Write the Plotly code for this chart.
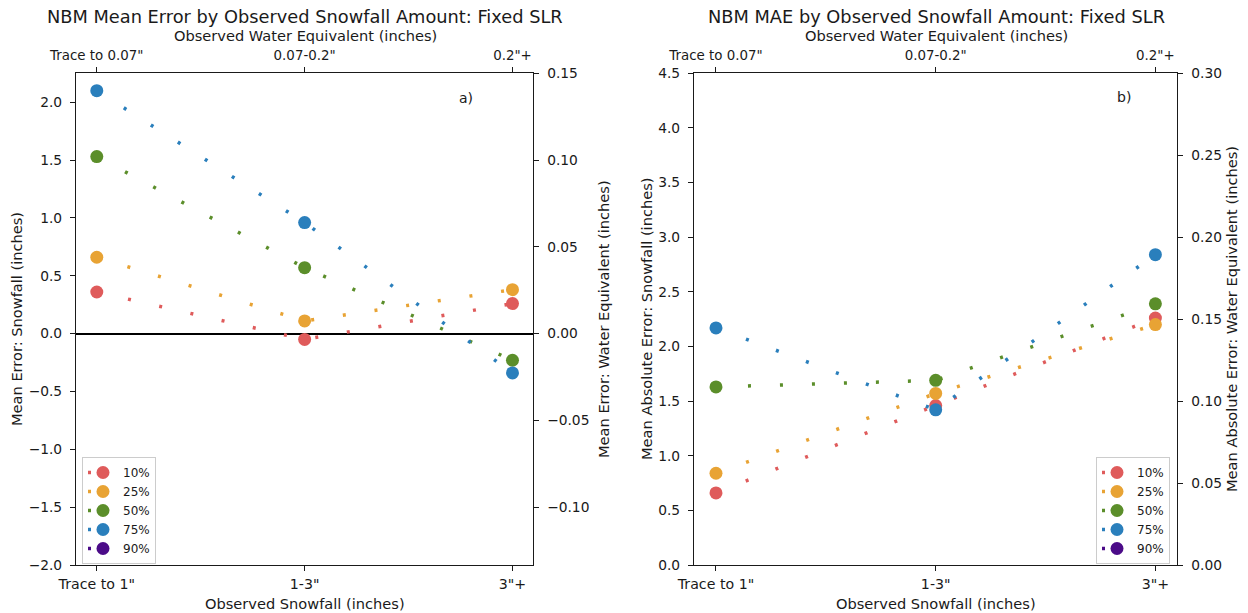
import plotly.graph_objects as go

# Category positions and tick labels
categories = [0, 1, 2]
snow_labels = ['Trace to 1"', '1-3"', '3"+']
swe_labels = ['Trace to 0.07"', '0.07-0.2"', '0.2"+']

# Percentile series names and colours
percentiles = ["10%", "25%", "50%", "75%", "90%"]
colors = ["#df5b5b", "#e8a334", "#5b8e2a", "#2a7fbc", "#4b0b88"]

# Mean error (snowfall, inches) by observed snowfall bin
me_p10 = [0.36, -0.05, 0.26]
me_p25 = [0.66, 0.11, 0.38]
me_p50 = [1.53, 0.57, -0.23]
me_p75 = [2.10, 0.96, -0.34]
me_p90 = [None, None, None]

# Mean absolute error (snowfall, inches) by observed snowfall bin
mae_p10 = [0.66, 1.46, 2.26]
mae_p25 = [0.84, 1.57, 2.20]
mae_p50 = [1.63, 1.69, 2.39]
mae_p75 = [2.17, 1.42, 2.84]
mae_p90 = [None, None, None]

# Fixed snow-to-liquid ratio linking the snowfall and water-equivalent axes
FIXED_SLR = 15.0

me_series = [me_p10, me_p25, me_p50, me_p75, me_p90]
mae_series = [mae_p10, mae_p25, mae_p50, mae_p75, mae_p90]

FONT = "DejaVu Sans"
INK = "#1a1a1a"
YTICK_FONT = dict(family=FONT, size=13.8, color=INK)
BOTTOM_TICK_FONT = dict(family=FONT, size=14.2, color=INK)
TOP_TICK_FONT = dict(family=FONT, size=13.4, color=INK)
LABEL_FONT = dict(family=FONT, size=14.6, color=INK)
TITLE_FONT = dict(family=FONT, size=17.8, color=INK)

fig = go.Figure()

for name, color, ys in zip(percentiles, colors, me_series):
    fig.add_trace(go.Scatter(
        x=categories, y=ys, name=name, mode="lines+markers",
        line=dict(color=color, width=3.5, dash="3px,29px"),
        marker=dict(color=color, size=13, line=dict(width=0)),
        xaxis="x", yaxis="y", legend="legend",
    ))

for name, color, ys in zip(percentiles, colors, mae_series):
    fig.add_trace(go.Scatter(
        x=categories, y=ys, name=name, mode="lines+markers",
        line=dict(color=color, width=3.5, dash="3px,29px"),
        marker=dict(color=color, size=13, line=dict(width=0)),
        xaxis="x2", yaxis="y3", legend="legend2",
    ))

# Empty traces so the water-equivalent (top / right) axes are laid out
for xa, ya in (("x3", "y2"), ("x4", "y4")):
    fig.add_trace(go.Scatter(x=[], y=[], xaxis=xa, yaxis=ya,
                             showlegend=False, hoverinfo="skip"))


def axis_style(**kw):
    base = dict(
        showline=True, linecolor=INK, linewidth=1.2,
        ticks="outside", ticklen=5, tickwidth=1.2, tickcolor=INK,
        showgrid=False, zeroline=False, automargin=False,
        tickfont=YTICK_FONT, ticklabelstandoff=5,
    )
    base.update(kw)
    return base


XRANGE = [-0.1, 2.1]
YDOM = [0.0783, 0.8804]
LEFT_DOM = [0.0609, 0.4273]
RIGHT_DOM = [0.5561, 0.9434]

me_range = [-2.0, 2.25]
mae_range = [0.0, 4.5]

bottom_x = dict(range=XRANGE, tickmode="array", tickvals=categories, ticktext=snow_labels,
                tickfont=BOTTOM_TICK_FONT, ticklabelstandoff=1)
top_x = dict(side="top", range=XRANGE, tickmode="array", tickvals=categories,
             ticktext=swe_labels, tickfont=TOP_TICK_FONT, ticklabelstandoff=2)

fig.update_layout(
    width=1248, height=613,
    margin=dict(l=0, r=0, t=0, b=0, autoexpand=False),
    paper_bgcolor="white", plot_bgcolor="white",
    font=dict(family=FONT, color=INK),
    showlegend=True,
    # Left panel: mean error
    xaxis=axis_style(domain=LEFT_DOM, anchor="y", **bottom_x),
    xaxis3=axis_style(overlaying="x", anchor="y", **top_x),
    yaxis=axis_style(domain=YDOM, anchor="x", range=me_range,
                     tickmode="array", tickvals=[-2, -1.5, -1, -0.5, 0, 0.5, 1, 1.5, 2],
                     tickformat=".1f",
                     zeroline=True, zerolinecolor="black", zerolinewidth=2),
    yaxis2=axis_style(overlaying="y", side="right", anchor="x",
                      range=[v / FIXED_SLR for v in me_range],
                      tickmode="array", tickvals=[-0.10, -0.05, 0.0, 0.05, 0.10, 0.15],
                      tickformat=".2f"),
    # Right panel: mean absolute error
    xaxis2=axis_style(domain=RIGHT_DOM, anchor="y3", **bottom_x),
    xaxis4=axis_style(overlaying="x2", anchor="y3", **top_x),
    yaxis3=axis_style(domain=YDOM, anchor="x2", range=mae_range,
                      tickmode="array", tickvals=[0, 0.5, 1, 1.5, 2, 2.5, 3, 3.5, 4, 4.5],
                      tickformat=".1f"),
    yaxis4=axis_style(overlaying="y3", side="right", anchor="x2",
                      range=[v / FIXED_SLR for v in mae_range],
                      tickmode="array", tickvals=[0, 0.05, 0.10, 0.15, 0.20, 0.25, 0.30],
                      tickformat=".2f"),
    legend=dict(x=0.0657, y=0.2545, xanchor="left", yanchor="top",
                bgcolor="rgba(255,255,255,0.85)", bordercolor="#cccccc", borderwidth=1,
                font=dict(family=FONT, size=12, color=INK),
                itemwidth=30, tracegroupgap=0),
    legend2=dict(x=0.9375, y=0.2545, xanchor="right", yanchor="top",
                 bgcolor="rgba(255,255,255,0.85)", bordercolor="#cccccc", borderwidth=1,
                 font=dict(family=FONT, size=12, color=INK),
                 itemwidth=30, tracegroupgap=0),
)


def px_x(p):
    return p / 1248.0


def px_y(p):
    return 1.0 - p / 613.0


annotations = [
    # Panel titles
    dict(text="NBM Mean Error by Observed Snowfall Amount: Fixed SLR",
         x=px_x(305), y=px_y(16), font=TITLE_FONT),
    dict(text="NBM MAE by Observed Snowfall Amount: Fixed SLR",
         x=px_x(936), y=px_y(16), font=TITLE_FONT),
    # Top axis titles
    dict(text="Observed Water Equivalent (inches)", x=px_x(305), y=px_y(36), font=LABEL_FONT),
    dict(text="Observed Water Equivalent (inches)", x=px_x(936), y=px_y(36), font=LABEL_FONT),
    # Bottom axis titles
    dict(text="Observed Snowfall (inches)", x=px_x(305), y=px_y(603), font=LABEL_FONT),
    dict(text="Observed Snowfall (inches)", x=px_x(936), y=px_y(603), font=LABEL_FONT),
    # Vertical axis titles
    dict(text="Mean Error: Snowfall (inches)", x=px_x(16), y=px_y(319),
         textangle=-90, font=LABEL_FONT),
    dict(text="Mean Error: Water Equivalent (inches)", x=px_x(603), y=px_y(319),
         textangle=-90, font=LABEL_FONT),
    dict(text="Mean Absolute Error: Snowfall (inches)", x=px_x(646), y=px_y(319),
         textangle=-90, font=LABEL_FONT),
    dict(text="Mean Absolute Error: Water Equivalent (inches)", x=px_x(1231), y=px_y(319),
         textangle=-90, font=LABEL_FONT),
]
for a in annotations:
    a.update(xref="paper", yref="paper", showarrow=False, xanchor="center", yanchor="middle")

# Panel letters
annotations.append(dict(text="a)", x=1.776, y=2.036, xref="x", yref="y", showarrow=False,
                        font=dict(family=FONT, size=14, color=INK)))
annotations.append(dict(text="b)", x=1.856, y=4.28, xref="x2", yref="y3", showarrow=False,
                        font=dict(family=FONT, size=14, color=INK)))

fig.update_layout(annotations=annotations)

fig.write_html("out.html")
